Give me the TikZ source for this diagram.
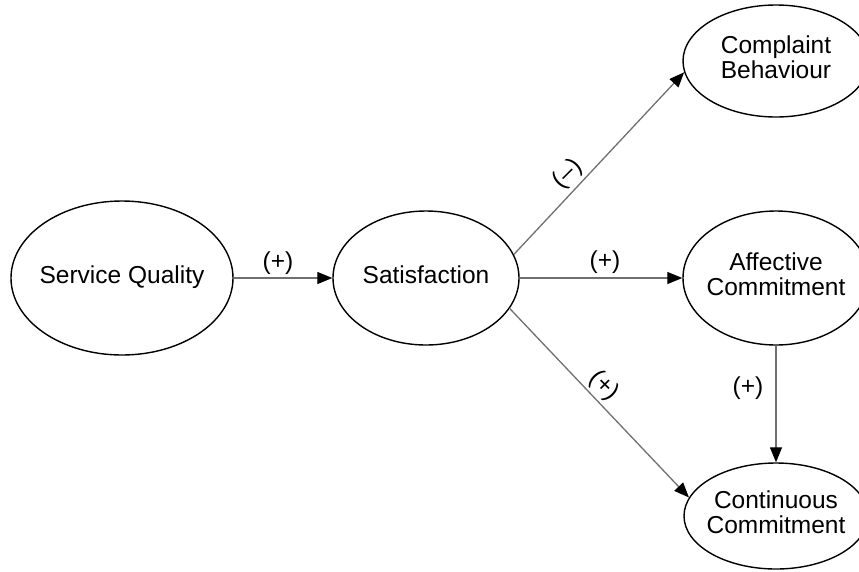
\documentclass[tikz,border=0pt]{standalone}
\usepackage{fontspec}
\setmainfont{Liberation Sans}
\usetikzlibrary{shapes.geometric,arrows.meta}
\definecolor{linegray}{HTML}{707070}
\tikzset{
  construct/.style={draw=black, line width=1.4pt, ellipse, inner sep=0pt, font=\fontsize{24.5}{25}\selectfont},
  path/.style={draw=linegray, line width=1.3pt, -{Triangle[length=15pt,width=12pt,color=black]}},
  sign/.style={font=\fontsize{24.5}{25}\selectfont, inner sep=0pt}
}
\newcommand{\ctext}[1]{\makebox[0pt]{\begin{tabular}{@{}c@{}}#1\end{tabular}}}
\begin{document}
\begin{tikzpicture}[x=1pt,y=-1pt]
\useasboundingbox (0,0) rectangle (859,571);
\node[construct, minimum width=222pt, minimum height=154pt] (sq) at (122,278) {\ctext{Service Quality}};
\node[construct, minimum width=186pt, minimum height=134pt] (sat) at (426,278) {\ctext{Satisfaction}};
\node[construct, minimum width=186pt, minimum height=112pt] (comp) at (776,61) {\ctext{Complaint\\Behaviour}};
\node[construct, minimum width=186pt, minimum height=134pt] (aff) at (776,278) {\ctext{Affective\\Commitment}};
\node[construct, minimum width=184pt, minimum height=106pt] (cont) at (776,516) {\ctext{Continuous\\Commitment}};

\draw[path] (sq) -- (sat);
\draw[path] (sat.15) -- (comp.187);
\draw[path] (sat) -- (aff);
\draw[path] (sat.-20) -- (cont.168);
\draw[path] (aff) -- (cont);

\node[sign] (s1) at (278,263) {(+)};
\node[sign, rotate=45] (s2) at (568,174) {(–)};
\node[sign] (s3) at (605,262) {(+)};
\node[sign, rotate=-45] (s4) at (604,386) {(+)};
\node[sign] (s5) at (748,388) {(+)};
\end{tikzpicture}
\end{document}
